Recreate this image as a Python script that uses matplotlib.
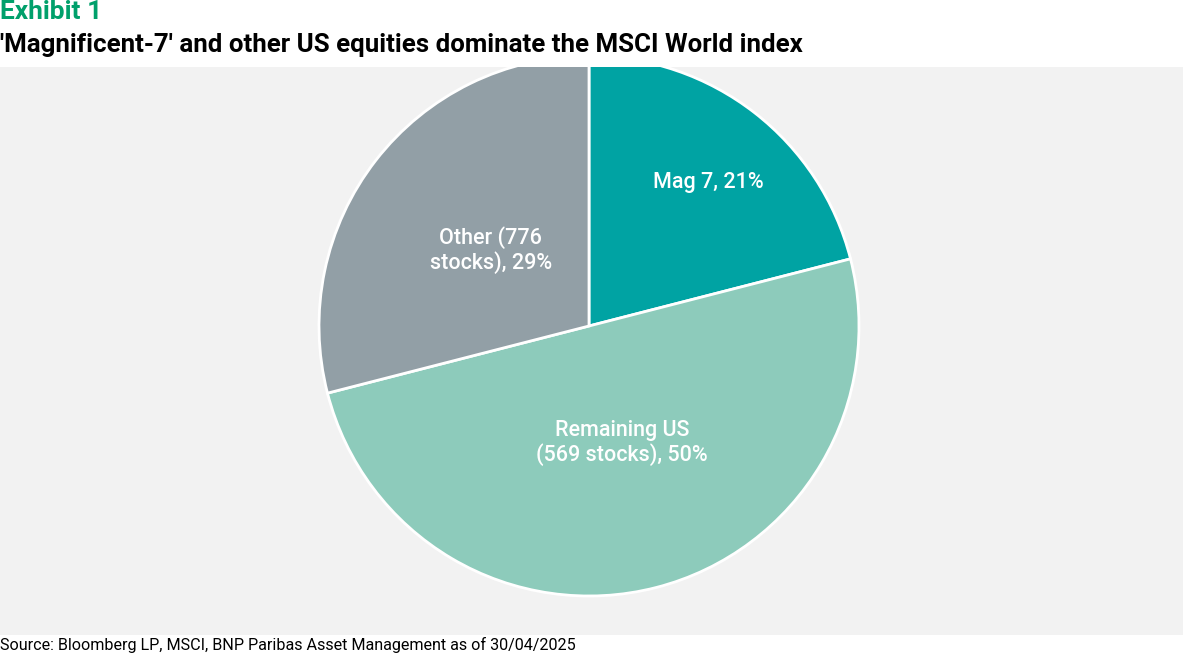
import matplotlib
matplotlib.use("Agg")
import matplotlib.pyplot as plt
from matplotlib.patches import Rectangle
import numpy as np

# data
labels = ["Mag 7, 21%", "Remaining US\n(569 stocks), 50%", "Other (776\nstocks), 29%"]
shares = [21, 50, 29]
colors = ["#00a3a3", "#8dcbbb", "#929fa6"]

# label placement: fraction of radius, angle tweak (deg)
label_r = [0.69, 0.45, 0.46]
label_dang = [-2.0, 1.4, 0.0]

title_tag = "Exhibit 1"
title = "'Magnificent-7' and other US equities dominate the MSCI World index"
source = "Source: Bloomberg LP, MSCI, BNP Paribas Asset Management as of 30/04/2025"

W, H = 1183, 657
fam = ["Roboto", "DejaVu Sans"]

fig = plt.figure(figsize=(W / 100, H / 100), dpi=100)
fig.patch.set_facecolor("white")
ax = fig.add_axes([0, 0, 1, 1])

cx, cy, R = 589, H - 326, 270
wedges, _ = ax.pie(shares, colors=colors, startangle=90, counterclock=False,
                   center=(cx, cy), radius=R, frame=True,
                   wedgeprops=dict(edgecolor="white", linewidth=2, zorder=2))
ax.set_xlim(0, W)
ax.set_ylim(0, H)
ax.set_aspect("equal")
ax.axis("off")

# grey plot area, white band above it hides the top of the pie
ax.add_patch(Rectangle((0, H - 635), W, 635 - 67, facecolor="#f2f2f2",
                       edgecolor="none", zorder=0))
ax.add_patch(Rectangle((0, H - 67), W, 67, facecolor="white",
                       edgecolor="none", zorder=4))

for w, lab, r, da in zip(wedges, labels, label_r, label_dang):
    mid = np.deg2rad((w.theta1 + w.theta2) / 2 + da)
    ax.text(cx + r * R * np.cos(mid), cy + r * R * np.sin(mid), lab,
            ha="center", va="center", color="white", fontsize=15.5,
            fontweight="medium", family=fam, linespacing=1.15, zorder=3)

fig.text(0.0, 1 - 12 / H, title_tag, ha="left", va="center", color="#00a06b",
         fontsize=19, fontweight="bold", family=fam)
fig.text(0.0, 1 - 45 / H, title, ha="left", va="center", color="black",
         fontsize=18.6, fontweight="bold", family=fam)
fig.text(0.0, 1 - 645 / H, source, ha="left", va="center", color="black",
         fontsize=11.6, family=fam)

fig.savefig("out.png", dpi=100, facecolor="white")
